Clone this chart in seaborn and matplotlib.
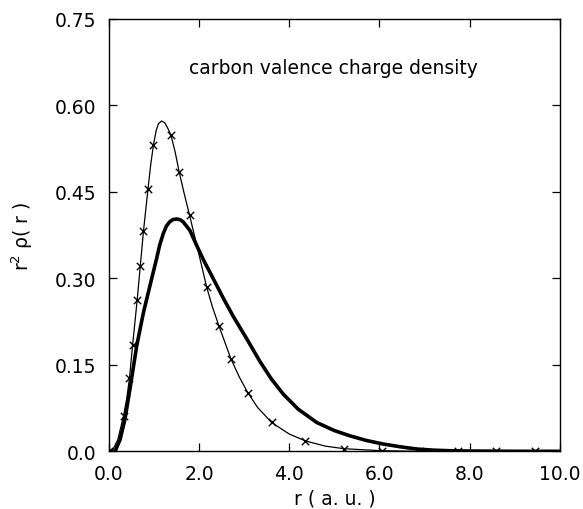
import numpy as np
import pandas as pd
import matplotlib
matplotlib.use("Agg")
import matplotlib.pyplot as plt
import seaborn as sns

# smooth curve (thin line through the x markers)
r_smooth = [0.0, 0.1, 0.2, 0.33, 0.40, 0.46, 0.53, 0.63, 0.70, 0.77, 0.87, 0.93, 0.99, 1.05, 1.10,
            1.17, 1.24, 1.30, 1.38, 1.47, 1.56, 1.67, 1.79, 1.95, 2.17, 2.30, 2.44, 2.71, 2.90, 3.08,
            3.30, 3.61, 4.00, 4.36, 4.80, 5.22, 6.05, 6.90, 7.74, 8.59, 9.44, 10.0]
rho_smooth = [0.0, 0.004, 0.020, 0.062, 0.092, 0.127, 0.185, 0.262, 0.322, 0.382, 0.455, 0.497, 0.531, 0.556, 0.568,
              0.573, 0.570, 0.562, 0.548, 0.520, 0.485, 0.448, 0.410, 0.358, 0.285, 0.250, 0.218, 0.160, 0.128, 0.102,
              0.076, 0.050, 0.030, 0.018, 0.009, 0.0045, 0.001, 0.0, 0.0, 0.0, 0.0, 0.0]

# x markers on the smooth curve
r_mark = [0.0, 0.33, 0.46, 0.53, 0.63, 0.70, 0.77, 0.87, 0.99, 1.38, 1.56, 1.79, 2.17,
          2.44, 2.71, 3.08, 3.61, 4.36, 5.22, 6.05, 6.90, 7.74, 8.59, 9.44]
rho_mark = [0.0, 0.062, 0.127, 0.185, 0.262, 0.322, 0.382, 0.455, 0.531, 0.548, 0.485, 0.410, 0.285,
            0.218, 0.160, 0.102, 0.050, 0.018, 0.0045, 0.001, 0.0, 0.0, 0.0, 0.0]

# noisy (thick) curve
r_noisy = [0.0, 0.14, 0.25, 0.36, 0.47, 0.62, 0.77, 0.95, 1.06, 1.13, 1.21, 1.28, 1.35, 1.42, 1.50,
           1.58, 1.65, 1.80, 1.95, 2.10, 2.32, 2.55, 2.76, 3.06, 3.35, 3.60, 3.87, 4.20, 4.61, 5.00,
           5.34, 5.70, 6.08, 6.45, 6.82, 7.20, 7.56, 8.00, 9.00, 10.0]
rho_noisy = [0.0, 0.0, 0.020, 0.056, 0.108, 0.183, 0.241, 0.299, 0.334, 0.358, 0.378, 0.391, 0.398, 0.402, 0.403,
             0.402, 0.398, 0.383, 0.357, 0.332, 0.299, 0.264, 0.234, 0.195, 0.156, 0.126, 0.099, 0.073, 0.050, 0.036,
             0.027, 0.019, 0.0127, 0.008, 0.004, 0.002, 0.001, 0.0005, 0.0, 0.0]

x_ticks = [0, 2, 4, 6, 8, 10]
x_labels = ["0.0", "2.0", "4.0", "6.0", "8.0", "10.0"]
y_ticks = [0.0, 0.15, 0.30, 0.45, 0.60, 0.75]
y_labels = ["0.0", "0.15", "0.30", "0.45", "0.60", "0.75"]

smooth_df = pd.DataFrame({"r": r_smooth, "rho": rho_smooth})
mark_df = pd.DataFrame({"r": r_mark, "rho": rho_mark})
noisy_df = pd.DataFrame({"r": r_noisy, "rho": rho_noisy})

sns.set_style("ticks")
plt.rcParams["font.family"] = ["DejaVu Sans"]
plt.rcParams["text.color"] = "black"
plt.rcParams["axes.labelcolor"] = "black"

fig = plt.figure(figsize=(5.83, 5.10), dpi=100)
ax = fig.add_axes([0.1865, 0.1131, 0.774, 0.8477])

sns.lineplot(data=noisy_df, x="r", y="rho", color="black", linewidth=2.6, sort=False, ax=ax)
sns.lineplot(data=smooth_df, x="r", y="rho", color="black", linewidth=0.9, sort=False, ax=ax)
sns.scatterplot(data=mark_df, x="r", y="rho", marker="x", color="black", s=28,
                linewidth=1.0, ax=ax, zorder=5)

ax.set_xlim(0, 10)
ax.set_ylim(0, 0.75)
ax.set_xticks(x_ticks)
ax.set_xticklabels(x_labels)
ax.set_yticks(y_ticks)
ax.set_yticklabels(y_labels)
ax.tick_params(direction="in", length=6, width=0.9, top=True, right=True,
               labelsize=13.5, colors="black", pad=9)
for s in ax.spines.values():
    s.set_linewidth(1.0)
    s.set_color("black")

ax.set_xlabel("r ( a. u. )", fontsize=13.5, labelpad=4, color="black")
ax.set_ylabel("r$^2$ ρ( r )", fontsize=13.5, labelpad=14, color="black")
ax.text(4.98, 0.665, "carbon valence charge density", fontsize=13.5, ha="center", va="center",
        color="black")

fig.savefig("out.png", dpi=100)
